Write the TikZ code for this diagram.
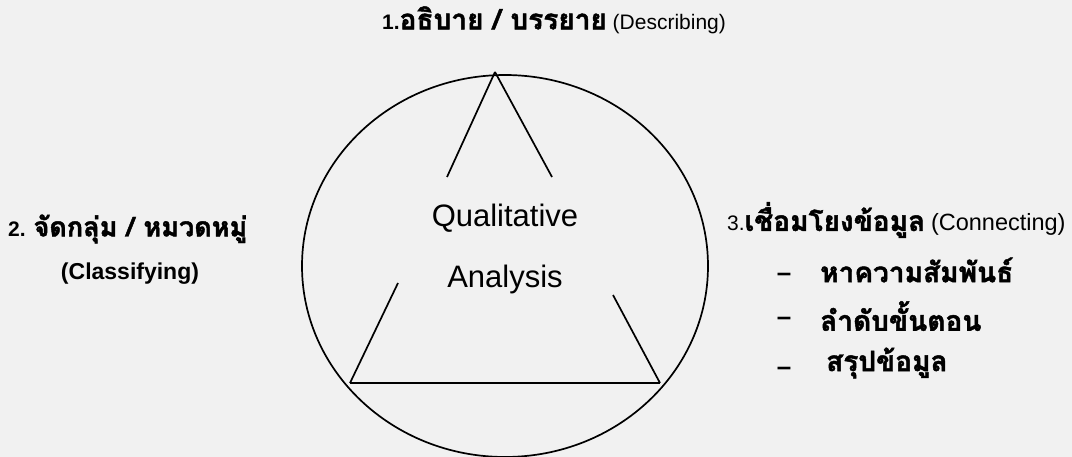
\documentclass[tikz,border=0pt]{standalone}
\usepackage{fontspec}
\setmainfont{Liberation Sans}
\newfontfamily\thaifont[Script=Thai,FakeBold=1.6]{Loma}
\newcommand\thaitxt[1]{{\thaifont\bfseries\fontsize{28}{32}\selectfont #1}}
\definecolor{paper}{RGB}{241,241,241}
\begin{document}
\begin{tikzpicture}[x=1pt,y=-1pt,
  lbl/.style={inner sep=0pt, font=\fontsize{21}{25}\selectfont},
  ttl/.style={inner sep=0pt, font=\fontsize{31}{36}\selectfont},
  dsh/.style={inner sep=0pt, font=\bfseries\fontsize{26}{28}\selectfont},
  shp/.style={line width=1.7pt, black}]
\fill[paper] (0,0) rectangle (1072,457);
\useasboundingbox (0,0) rectangle (1072,457);
\begin{scope}
\clip (0,0) rectangle (1072,457);
\draw[shp] (505,266) ellipse [x radius=203, y radius=191];
\end{scope}
% triangle
\coordinate (A) at (495,72);
\coordinate (B) at (350,383);
\coordinate (C) at (660,383);
\draw[shp] (A) -- (447,177);
\draw[shp] (A) -- (552,177);
\draw[shp] (B) -- (398,283);
\draw[shp] (C) -- (613,295);
\draw[shp] (B) -- (C);
% centre text
\node[ttl] (q) at (505,218) {Qualitative};
\node[ttl] (an) at (505,279) {Analysis};
% top
\node[lbl] (t1) at (554,20) {{\bfseries 1.}\thaitxt{อธิบาย / บรรยาย} (Describing)};
% left
\node[lbl, anchor=west] (t2) at (8,229) {{\bfseries 2. }{\thaifont\bfseries\fontsize{27}{31}\selectfont จัดกลุ่ม / หมวดหมู่}};
\node[lbl, font=\bfseries\fontsize{23}{27}\selectfont] (t2b) at (130,274) {(Classifying)};
% right
\node[lbl, anchor=west] (t3) at (727,220) {3.\thaitxt{เชื่อมโยงข้อมูล} {\fontsize{23.5}{27}\selectfont(Connecting)}};
\node[dsh] (d1) at (784,277) {–};
\node[dsh] (d2) at (784,321) {–};
\node[dsh] (d3) at (784,371) {–};
\node[lbl, anchor=west] (i1) at (820,270) {\thaitxt{หาความสัมพันธ์}};
\node[lbl, anchor=west] (i2) at (820,316) {\thaitxt{ลำดับขั้นตอน}};
\node[lbl, anchor=west] (i3) at (826,363) {\thaitxt{สรุปข้อมูล}};
\end{tikzpicture}
\end{document}
